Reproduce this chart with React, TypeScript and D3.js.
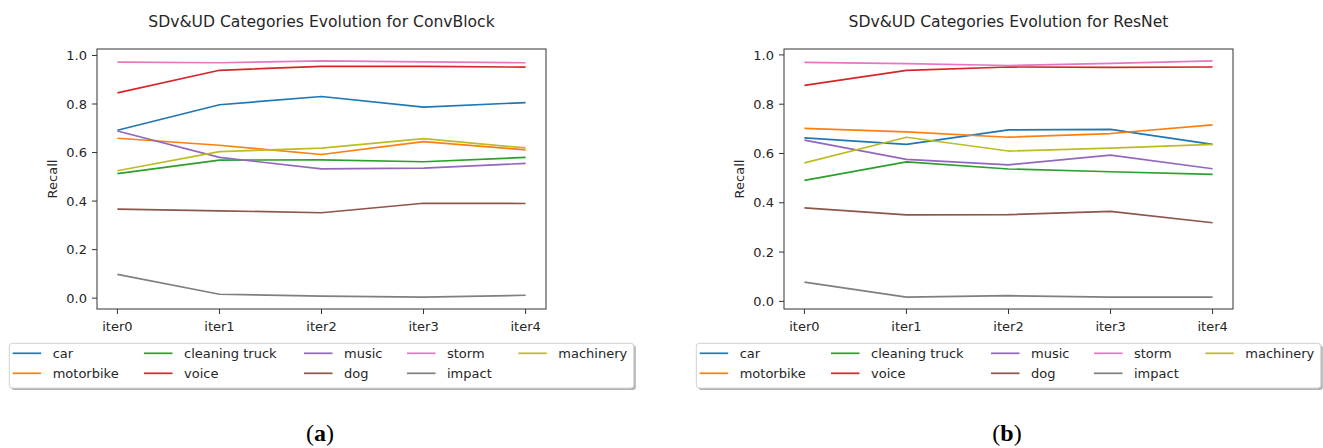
import React, { useEffect, useRef } from 'react';
import * as d3 from 'd3';

const iterations = ['iter0', 'iter1', 'iter2', 'iter3', 'iter4'];
const categories = ['car', 'motorbike', 'cleaning truck', 'voice', 'music', 'dog', 'storm', 'impact', 'machinery'];
const colours = ['#1f77b4', '#ff7f0e', '#2ca02c', '#d62728', '#9467bd', '#8c564b', '#e377c2', '#7f7f7f', '#bcbd22'];
const yTicks = [0, 0.2, 0.4, 0.6, 0.8, 1.0];

// ConvBlock recall per category
const convCar = [0.692, 0.797, 0.831, 0.787, 0.806];
const convMotorbike = [0.659, 0.630, 0.592, 0.645, 0.611];
const convCleaningTruck = [0.513, 0.569, 0.570, 0.562, 0.580];
const convVoice = [0.846, 0.939, 0.955, 0.955, 0.952];
const convMusic = [0.689, 0.580, 0.533, 0.536, 0.555];
const convDog = [0.367, 0.360, 0.352, 0.391, 0.390];
const convStorm = [0.973, 0.970, 0.978, 0.974, 0.970];
const convImpact = [0.098, 0.016, 0.008, 0.004, 0.012];
const convMachinery = [0.525, 0.604, 0.618, 0.657, 0.619];

// ResNet recall per category
const resCar = [0.663, 0.637, 0.696, 0.698, 0.637];
const resMotorbike = [0.702, 0.688, 0.666, 0.681, 0.716];
const resCleaningTruck = [0.491, 0.566, 0.537, 0.526, 0.515];
const resVoice = [0.876, 0.937, 0.951, 0.949, 0.951];
const resMusic = [0.654, 0.576, 0.554, 0.593, 0.538];
const resDog = [0.379, 0.351, 0.352, 0.365, 0.319];
const resStorm = [0.970, 0.965, 0.957, 0.966, 0.976];
const resImpact = [0.078, 0.017, 0.023, 0.017, 0.017];
const resMachinery = [0.562, 0.666, 0.610, 0.622, 0.637];

const convSeries = [convCar, convMotorbike, convCleaningTruck, convVoice, convMusic, convDog, convStorm, convImpact, convMachinery];
const resSeries = [resCar, resMotorbike, resCleaningTruck, resVoice, resMusic, resDog, resStorm, resImpact, resMachinery];

const FONT = '"DejaVu Sans", sans-serif';
const TXT = '#262626';

function drawPanel(
  svg: d3.Selection<SVGSVGElement, unknown, null, undefined>,
  offsetX: number,
  title: string,
  series: number[][],
  tag: string
) {
  const left = 97, right = 546, top = 49, bottom = 309;
  const g = svg.append('g').attr('transform', `translate(${offsetX},0)`);

  // matplotlib style 5% margins on both axes
  const xl = d3.scaleLinear().domain([-0.2, iterations.length - 1 + 0.2]).range([left, right]);
  const [mn, mx] = d3.extent(series.flat()) as [number, number];
  const pad = (mx - mn) * 0.05;
  const y = d3.scaleLinear().domain([mn - pad, mx + pad]).range([bottom, top]);

  // title
  g.append('text')
    .attr('x', (left + right) / 2)
    .attr('y', 26.5)
    .attr('text-anchor', 'middle')
    .attr('font-family', FONT)
    .attr('font-size', 15.6)
    .attr('fill', TXT)
    .text(title);

  // lines
  const line = d3.line<number>()
    .x((_d, i) => xl(i))
    .y(d => y(d));

  series.forEach((vals, i) => {
    g.append('path')
      .attr('d', line(vals) as string)
      .attr('fill', 'none')
      .attr('stroke', colours[i])
      .attr('stroke-width', 1.7)
      .attr('stroke-linejoin', 'round');
  });

  // frame
  g.append('rect')
    .attr('x', left)
    .attr('y', top)
    .attr('width', right - left)
    .attr('height', bottom - top)
    .attr('fill', 'none')
    .attr('stroke', '#333')
    .attr('stroke-width', 1);

  // y ticks
  yTicks.forEach(t => {
    g.append('line')
      .attr('x1', left - 5).attr('x2', left)
      .attr('y1', y(t)).attr('y2', y(t))
      .attr('stroke', '#333');
    g.append('text')
      .attr('x', left - 10)
      .attr('y', y(t))
      .attr('dy', '0.36em')
      .attr('text-anchor', 'end')
      .attr('font-family', FONT)
      .attr('font-size', 13)
      .attr('fill', TXT)
      .text(d3.format('.1f')(t));
  });

  // x ticks
  iterations.forEach((lab, i) => {
    g.append('line')
      .attr('x1', xl(i)).attr('x2', xl(i))
      .attr('y1', bottom).attr('y2', bottom + 5)
      .attr('stroke', '#333');
    g.append('text')
      .attr('x', xl(i))
      .attr('y', bottom + 22)
      .attr('text-anchor', 'middle')
      .attr('font-family', FONT)
      .attr('font-size', 13)
      .attr('fill', TXT)
      .text(lab);
  });

  // y label
  g.append('text')
    .attr('transform', `translate(57,${(top + bottom) / 2}) rotate(-90)`)
    .attr('text-anchor', 'middle')
    .attr('font-family', FONT)
    .attr('font-size', 13)
    .attr('fill', TXT)
    .text('Recall');

  // legend
  const lx = 9.3, ly = 343.3, lw = 624.5, lh = 44.8;
  g.append('rect')
    .attr('x', lx + 2).attr('y', ly + 2)
    .attr('width', lw).attr('height', lh)
    .attr('rx', 3)
    .attr('fill', '#b3b3b3');
  g.append('rect')
    .attr('x', lx).attr('y', ly)
    .attr('width', lw).attr('height', lh)
    .attr('rx', 3)
    .attr('fill', '#fff')
    .attr('stroke', '#d0d0d0');

  const colX = [3.4, 134.7, 294.7, 397.7, 509];
  const rowY = [10, 30];
  categories.forEach((cat, i) => {
    const c = Math.floor(i / 2);
    const r = i % 2;
    const hx = lx + colX[c];
    const hy = ly + rowY[r];
    g.append('line')
      .attr('x1', hx).attr('x2', hx + 28.5)
      .attr('y1', hy).attr('y2', hy)
      .attr('stroke', colours[i])
      .attr('stroke-width', 1.7);
    g.append('text')
      .attr('x', hx + 40)
      .attr('y', hy)
      .attr('dy', '0.36em')
      .attr('font-family', FONT)
      .attr('font-size', 13)
      .attr('fill', TXT)
      .text(cat);
  });

  // subfigure tag
  const tg = g.append('text')
    .attr('x', 320)
    .attr('y', 441)
    .attr('text-anchor', 'middle')
    .attr('font-family', '"Liberation Serif", "DejaVu Serif", serif')
    .attr('font-size', 24)
    .attr('fill', '#000');
  tg.append('tspan').text('(');
  tg.append('tspan').attr('font-weight', 'bold').text(tag);
  tg.append('tspan').text(')');
}

const App: React.FC = () => {
  const svgRef = useRef<SVGSVGElement>(null);

  useEffect(() => {
    const svg = d3.select(svgRef.current as SVGSVGElement);
    svg.selectAll('*').remove();
    drawPanel(svg, 0, 'SDv&UD Categories Evolution for ConvBlock', convSeries, 'a');
    drawPanel(svg, 687, 'SDv&UD Categories Evolution for ResNet', resSeries, 'b');
  }, []);

  return (
    <div style={{ position: 'fixed', left: 0, top: 0 }}>
      <svg ref={svgRef} width={1323} height={448} style={{ display: 'block', background: '#fff' }}></svg>
    </div>
  );
};

export default App;
